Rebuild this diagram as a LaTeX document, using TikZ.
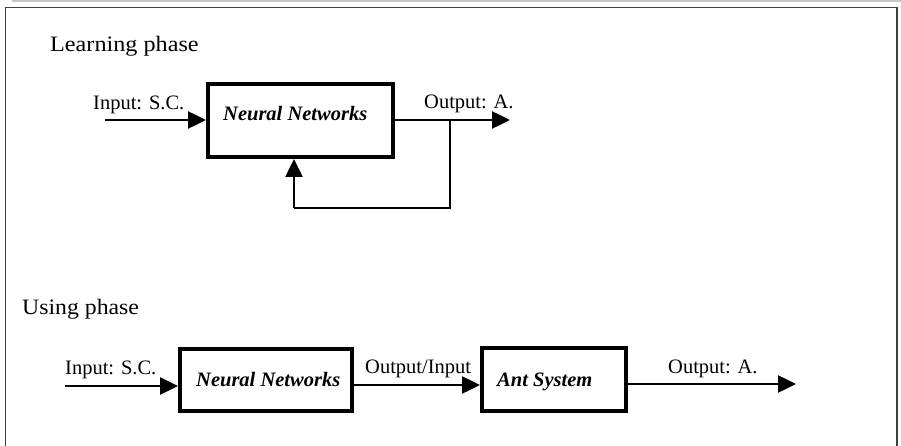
\documentclass[tikz,border=0pt]{standalone}
\usepackage{fontspec}
\setmainfont{Liberation Serif}
\usetikzlibrary{arrows.meta}
\tikzset{
  blk/.style={draw=black, line width=4pt, inner sep=0pt},
  lbl/.style={anchor=base west, inner sep=0pt, font=\fontsize{20.5}{24}\selectfont},
  inlbl/.style={anchor=base west, inner sep=0pt, font=\fontsize{20.5}{24}\selectfont\bfseries\itshape},
  ttl/.style={anchor=base west, inner sep=0pt, font=\fontsize{22}{26}\selectfont},
  flow/.style={line width=2.5pt, -{Triangle[length=18pt,width=17pt]}},
  wire/.style={line width=2.5pt}
}
\begin{document}
\begin{tikzpicture}[x=1pt,y=-1pt]
\useasboundingbox (0,0) rectangle (901,446);
% frame
\draw[gray!45, line width=2.5pt] (12,1.2) -- (901,1.2);
\draw[black!75, line width=1.5pt] (5.5,446) -- (5.5,7.5) -- (897,7.5) -- (897,446);

% ---------- Learning phase ----------
\node[ttl] (ttlA) at (50,52) {\scalebox{1.1}[1]{Learning phase}};
\node[blk, minimum width=185pt, minimum height=73pt] (nnA) at (300.5,120.5) {};
\node[inlbl] (nnAt) at (223,121) {Neural Networks};
\coordinate (inA) at (105,120);
\coordinate (outA) at (510,120);
\coordinate (splitA) at (450,120);
\coordinate (fbA) at (450,208);
\coordinate (fbB) at (294,208);
\node[lbl] (inAl) at (93,110) {Input: S.C.};
\node[lbl] (outAl) at (424,109) {Output: A.};
\draw[flow] (inA) -- (inA -| nnA.west);
\draw[flow] (outA -| nnA.east) -- (outA);
\draw[wire] (splitA) -- (fbA) -- (fbB);
\draw[flow] (fbB) -- (fbB |- nnA.south);

% ---------- Using phase ----------
\node[ttl] (ttlB) at (22,314) {\scalebox{1.08}[1]{Using phase}};
\node[blk, minimum width=172pt, minimum height=62pt] (nnB) at (266,380) {};
\node[inlbl] (nnBt) at (196,386) {Neural Networks};
\node[blk, minimum width=144pt, minimum height=63pt] (ant) at (554,379.5) {};
\node[inlbl] (antt) at (497,386) {Ant System};
\coordinate (inB) at (65,386);
\coordinate (outB) at (796,384);
\node[lbl] (inBl) at (65,374) {Input: S.C.};
\node[lbl] (midl) at (365,373) {Output/Input};
\node[lbl] (outBl) at (668,373) {Output: A.};
\draw[flow] (inB) -- (inB -| nnB.west);
\draw[flow] (nnB.east |- 0,385) -- (ant.west |- 0,385);
\draw[flow] (outB -| ant.east) -- (outB);
\end{tikzpicture}
\end{document}
